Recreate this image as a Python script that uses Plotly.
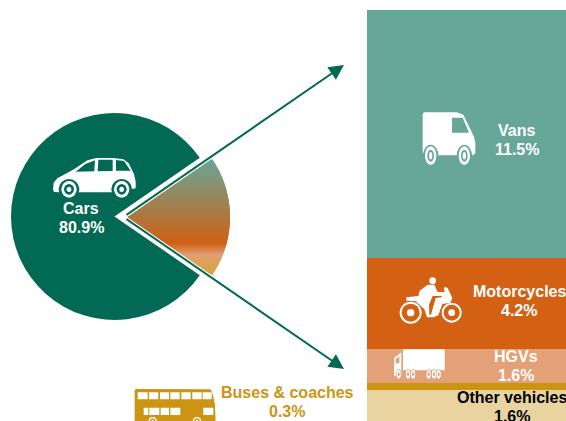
import math
import plotly.graph_objects as go

W, H = 566, 421
FONT = "Liberation Sans"

# ---- data ----
car_label = "Cars"
car_share = 80.9
stack_labels = ["Vans", "Motorcycles", "HGVs", "Buses & coaches", "Other vehicles"]
stack_values = [11.5, 4.2, 1.6, 0.3, 1.6]
stack_colors = ["#66A797", "#D46113", "#E4A077", "#CB9513", "#E8D3A1"]
CAR_COLOR = "#026A54"
BG_VAN, BG_MOTO, BG_HGV, BUS = stack_colors[0], stack_colors[1], stack_colors[2], stack_colors[3]

# wedge gradient stops: (pixel y, colour)
grad_stops = [(158, (102, 167, 151)), (243, (208, 96, 20)), (255, (226, 158, 118)), (262, (222, 160, 90)), (276, (212, 165, 60))]

others = sum(stack_values)
half_angle = others / (others + car_share) * math.pi
PX_PER_PCT = 21.57

fig = go.Figure()

# ---- main pie ----
fig.add_trace(go.Pie(
    values=[car_share, others], sort=False, direction="clockwise",
    rotation=90 + math.degrees(half_angle),
    marker=dict(colors=[CAR_COLOR, "rgba(0,0,0,0)"], line=dict(width=0)),
    textinfo="none", hoverinfo="skip", showlegend=False,
    domain=dict(x=[11 / W, 218 / W], y=[(H - 320) / H, (H - 113) / H]),
))

# ---- gradient wedge, built from the share of the non-car vehicles ----
AX, AY, R = 127.5, 217.0, 102.5


def grad(y):
    if y <= grad_stops[0][0]:
        return grad_stops[0][1]
    for (y0, c0), (y1, c1) in zip(grad_stops, grad_stops[1:]):
        if y <= y1:
            t = (y - y0) / (y1 - y0)
            return tuple(round(a + (b - a) * t) for a, b in zip(c0, c1))
    return grad_stops[-1][1]


ymax = R * math.sin(half_angle)


def edges(y):
    d = abs(y - AY)
    return AX + d / math.tan(half_angle), AX + math.sqrt(max(R * R - d * d, 0))


y = AY - ymax
while y < AY + ymax:
    y1 = min(y + 2.0, AY + ymax)
    ys = [y, (y + y1) / 2, y1]
    if y < AY < y1:
        ys = sorted(ys + [AY])
    lefts = [edges(v)[0] for v in ys]
    rights = [edges(v)[1] for v in ys]
    c = grad(y + 0.5)
    fig.add_trace(go.Scatter(
        x=lefts + rights[::-1], y=ys + ys[::-1], mode="lines", fill="toself",
        fillcolor=f"rgb{c}", line=dict(width=0), hoverinfo="skip",
        showlegend=False, xaxis="x", yaxis="y"))
    y += 1.0

# ---- stacked bar ----
for lab, val, col in zip(stack_labels, stack_values, stack_colors):
    fig.add_trace(go.Bar(
        x=["all"], y=[val], name=lab, marker=dict(color=col, line=dict(width=0)),
        xaxis="x2", yaxis="y2", hoverinfo="skip", showlegend=False))

# ---- icons (pictograms, in page pixels) ----
shapes = []


def path(pts, ox, oy, fill, s=3.0):
    d = ""
    for poly in pts:
        d += "M" + "L".join(f"{ox + px / s:.2f},{oy + py / s:.2f}" for px, py in poly) + "Z"
    shapes.append(dict(type="path", path=d, xref="x", yref="y", fillcolor=fill,
                       line=dict(width=0), layer="above"))


def ell(cx, cy, rx, ry, ox, oy, fill, s=3.0):
    shapes.append(dict(type="circle", xref="x", yref="y", fillcolor=fill, line=dict(width=0),
                       x0=ox + (cx - rx) / s, x1=ox + (cx + rx) / s,
                       y0=oy + (cy - ry) / s, y1=oy + (cy + ry) / s, layer="above"))


# car
ox, oy = 0, 100
path([[(159, 268), (161, 248), (172, 235), (222, 208), (262, 181), (290, 174), (340, 174), (370, 178), (386, 190),
       (402, 222), (407, 245), (407, 265), (392, 268), (340, 277), (232, 277), (180, 277), (162, 276)],
      [(227, 215), (256, 192), (285, 181), (283, 214)],
      [(295, 179), (338, 179), (338, 213), (293, 214)],
      [(348, 180), (372, 183), (392, 212), (348, 212)]], ox, oy, "white")
for cx in (207, 365):
    ell(cx, 268, 31, 31, ox, oy, CAR_COLOR)
    ell(cx, 268, 23, 25, ox, oy, "white")
    ell(cx, 268, 15, 16, ox, oy, CAR_COLOR)
    ell(cx, 268, 7, 8, ox, oy, "white")

# van
ox, oy = 400, 90
path([[(68, 72), (72, 67), (170, 67), (190, 74), (222, 140), (226, 160), (226, 190), (218, 196), (120, 196), (75, 196), (68, 188)],
      [(156, 83), (188, 83), (207, 128), (156, 128)]], ox, oy, "white")
for cx in (92, 193):
    ell(cx, 197, 23, 33, ox, oy, BG_VAN)
    ell(cx, 197, 17, 28, ox, oy, "white")
    ell(cx, 197, 10, 18, ox, oy, BG_VAN)
    ell(cx, 197, 5, 11, ox, oy, "white")

# motorcycle
ox, oy = 395, 272
ell(113, 26, 10, 10, ox, oy, "white")
for cx, r, hub in ((47, 33, 11), (170, 30, 10)):
    ell(cx, 122, r, r, ox, oy, "white")
    ell(cx, 122, r - 6, r - 6, ox, oy, BG_MOTO)
    ell(cx, 122, hub, hub, ox, oy, "white")
path([[(150, 44), (158, 48), (172, 78), (166, 92), (142, 96), (130, 130), (116, 136), (96, 136), (88, 112),
       (62, 88), (34, 86), (34, 76), (70, 72), (74, 56), (98, 38), (118, 38), (128, 60), (150, 60), (146, 50)]],
     ox, oy, "white")
path([[(113, 72), (140, 72), (140, 76), (122, 78), (108, 128), (103, 128), (102, 98)]], ox, oy, BG_MOTO)

# truck
ox, oy = 388, 345
path([[(45, 13), (170, 13), (170, 76), (45, 76)]], ox, oy, "white")
path([[(18, 40), (40, 22), (40, 92), (18, 92)],
      [(23, 42), (34, 33), (34, 55), (23, 55)]], ox, oy, "white")
for cx in (32, 60, 75, 122, 138, 152):
    ell(cx, 88, 8, 15, ox, oy, BG_HGV)
    ell(cx, 88, 6.5, 13, ox, oy, "white")
    ell(cx, 88, 3, 6, ox, oy, BG_HGV)

# bus
ox, oy = 120, 340
windows_up = [(53, 83), (87, 115), (120, 147), (151, 179), (184, 212), (217, 245), (248, 275)]
windows_lo = [(71, 85), (88, 118), (122, 147), (151, 181), (250, 280)]
polys = [[(44, 150), (48, 147), (272, 148), (279, 165), (285, 195), (287, 250), (44, 250)]]
polys += [[(a, 157), (b, 157), (b, 178), (a, 178)] for a, b in windows_up]
polys += [[(a, 203), (b, 203), (b, 225), (a, 225)] for a, b in windows_lo]
path(polys, ox, oy, BUS)
for cx in (98, 231):
    ell(cx, 243, 12, 12, ox, oy, "white")
    ell(cx, 243, 8, 8, ox, oy, BUS)
    ell(cx, 243, 4, 4, ox, oy, "white")

# ---- text ----
ann = []


def label(x, y, text, color="white"):
    ann.append(dict(x=x, y=y, xref="x", yref="y", text=f"<b>{text}</b>", showarrow=False,
                    xanchor="center", yanchor="middle", font=dict(family=FONT, size=16, color=color)))


label(81, 208.5, car_label)
label(81, 227.5, f"{car_share}%")
label(516.5, 130.5, stack_labels[0])
label(516.5, 149.5, f"{stack_values[0]}%")
label(519, 291.5, stack_labels[1])
label(518.5, 310.5, f"{stack_values[1]}%")
label(516, 356, stack_labels[2])
label(516, 375, f"{stack_values[2]}%")
label(287, 392.5, stack_labels[3], "#CB9513")
label(286.5, 411.5, f"{stack_values[3]}%", "#CB9513")
label(511.5, 397, stack_labels[4], "#000000")
label(512, 416, f"{stack_values[4]}%", "#000000")

# ---- arrows ----
for tip_y in (65, 369):
    ann.append(dict(x=344, y=tip_y, ax=123.5, ay=217, xref="x", yref="y", axref="x", ayref="y",
                    showarrow=True, arrowhead=2, arrowsize=1.5, arrowwidth=2, arrowcolor=CAR_COLOR,
                    standoff=0, startstandoff=0))

total_px = H - 10
fig.update_layout(
    width=W, height=H, margin=dict(l=0, r=0, t=0, b=0, pad=0, autoexpand=False),
    paper_bgcolor="white", plot_bgcolor="white", barmode="stack", bargap=0, showlegend=False,
    shapes=shapes, annotations=ann,
    xaxis=dict(domain=[0, 1], range=[0, W], visible=False, fixedrange=True),
    yaxis=dict(domain=[0, 1], range=[H, 0], visible=False, fixedrange=True),
    xaxis2=dict(domain=[367 / W, 1], anchor="y2", visible=False, fixedrange=True),
    yaxis2=dict(domain=[0, 1], anchor="x2", range=[total_px / PX_PER_PCT, -10 / PX_PER_PCT],
                visible=False, fixedrange=True),
)
fig.write_html("out.html", config=dict(displayModeBar=False),
               post_script="document.body.style.margin='0';document.body.style.overflow='hidden';")
